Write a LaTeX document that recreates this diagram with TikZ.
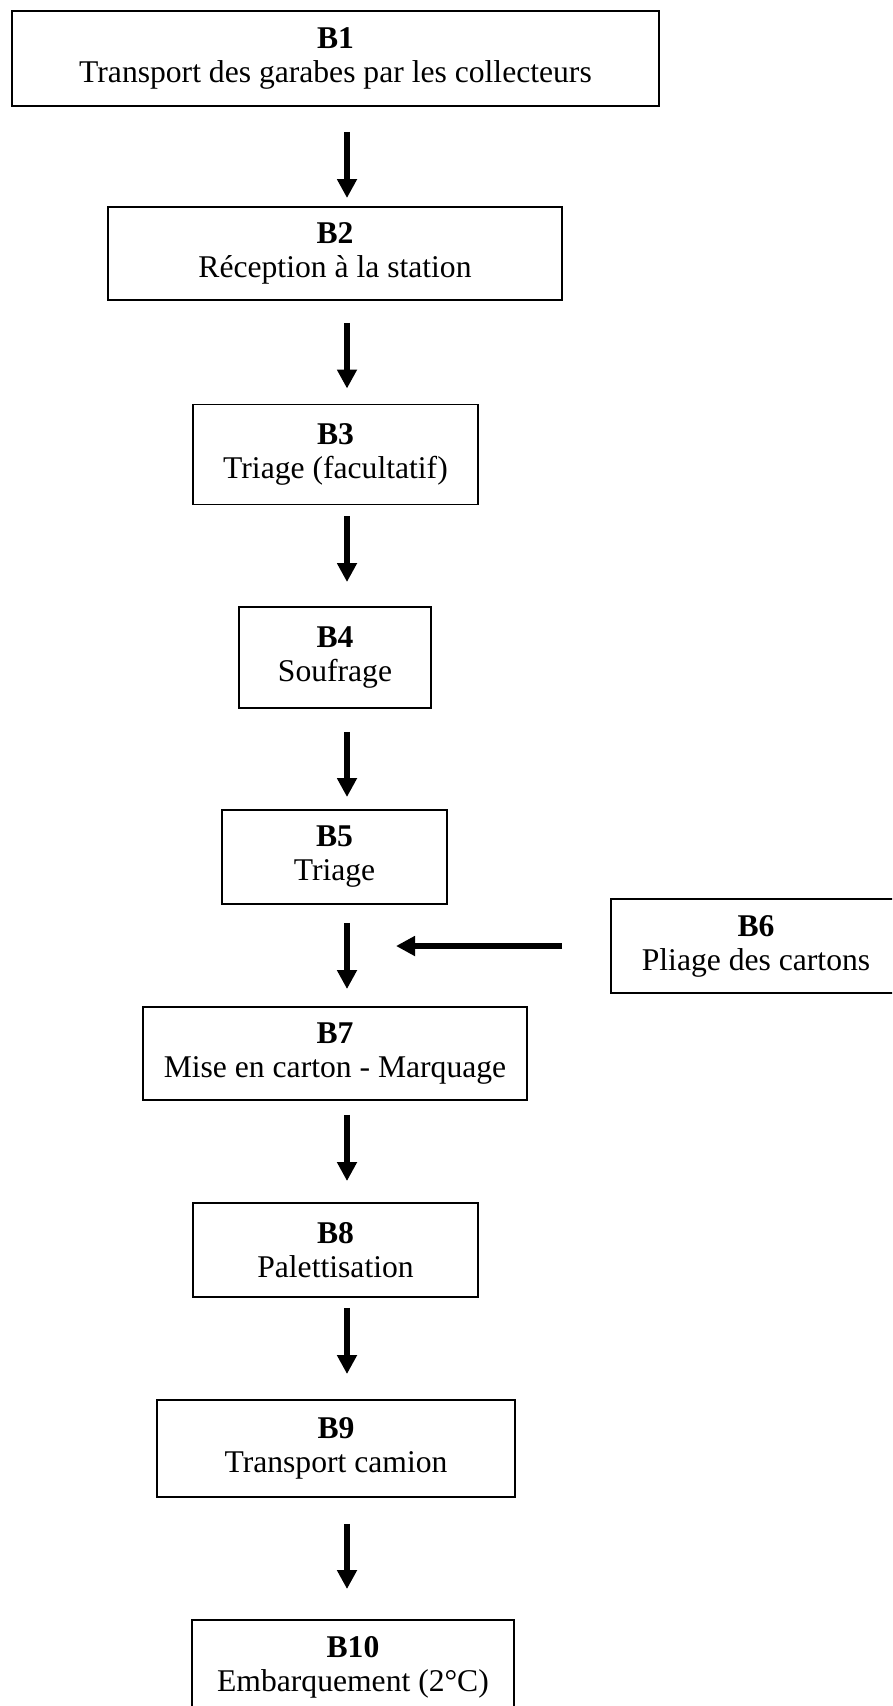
\documentclass[tikz,border=0pt]{standalone}
\usepackage{fontspec}
\setmainfont{Liberation Serif}
\usetikzlibrary{arrows.meta}

\begin{document}
\begin{tikzpicture}[x=0.02cm, y=-0.02cm,
  etape/.style={draw, line width=1.1pt, align=center, inner sep=0pt,
    font=\fontsize{18}{19.4}\selectfont},
  fleche/.style={line width=3.3pt, -{Triangle[length=0.38cm,width=0.38cm]}}]
  \useasboundingbox (0,0) rectangle (892,1706);
  \clip (0,0) rectangle (892,1706);
  \coordinate (axe) at (347,0);
  \coordinate (entree) at (396,946);
  % etapes
  \node[etape,minimum width=12.94cm,minimum height=1.9cm]  (b1) at (335.5,58.5)
    {\textbf{B1}\\Transport des garabes par les collecteurs};
  \node[etape,minimum width=9.08cm,minimum height=1.86cm]  (b2) at (335,253.5)
    {\textbf{B2}\\Réception à la station};
  \node[etape,minimum width=5.7cm,minimum height=2cm]      (b3) at (335.5,454.5)
    {\textbf{B3}\\Triage (facultatif)};
  \node[etape,minimum width=3.84cm,minimum height=2.02cm]  (b4) at (335,657.5)
    {\textbf{B4}\\Soufrage};
  \node[etape,minimum width=4.5cm,minimum height=1.88cm]   (b5) at (334.5,857)
    {\textbf{B5}\\Triage};
  \node[etape,minimum width=5.8cm,minimum height=1.88cm]   (b6) at (756,946)
    {\textbf{B6}\\Pliage des cartons};
  \node[etape,minimum width=7.68cm,minimum height=1.86cm]  (b7) at (335,1053.5)
    {\textbf{B7}\\Mise en carton - Marquage};
  \node[etape,minimum width=5.7cm,minimum height=1.88cm]   (b8) at (335.5,1250)
    {\textbf{B8}\\Palettisation};
  \node[etape,minimum width=7.16cm,minimum height=1.94cm]  (b9) at (336,1448.5)
    {\textbf{B9}\\Transport camion};
  \node[etape,minimum width=6.44cm,minimum height=1.88cm]  (b10) at (353,1667)
    {\textbf{B10}\\Embarquement (2°C)};
  % fleches
  \draw[fleche,shorten <=0.5cm,shorten >=0.16cm]  (b1.south -| axe) -- (b2.north -| axe);
  \draw[fleche,shorten <=0.44cm,shorten >=0.3cm]  (b2.south -| axe) -- (b3.north -| axe);
  \draw[fleche,shorten <=0.22cm,shorten >=0.48cm] (b3.south -| axe) -- (b4.north -| axe);
  \draw[fleche,shorten <=0.46cm,shorten >=0.24cm] (b4.south -| axe) -- (b5.north -| axe);
  \draw[fleche,shorten <=0.36cm,shorten >=0.34cm] (b5.south -| axe) -- (b7.north -| axe);
  \draw[fleche,shorten <=0.28cm,shorten >=0.42cm] (b7.south -| axe) -- (b8.north -| axe);
  \draw[fleche,shorten <=0.2cm,shorten >=0.5cm]   (b8.south -| axe) -- (b9.north -| axe);
  \draw[fleche,shorten <=0.52cm,shorten >=0.6cm]  (b9.south -| axe) -- (b10.north -| axe);
  \draw[fleche,shorten <=0.96cm] (b6.west) -- (entree);
\end{tikzpicture}
\end{document}
